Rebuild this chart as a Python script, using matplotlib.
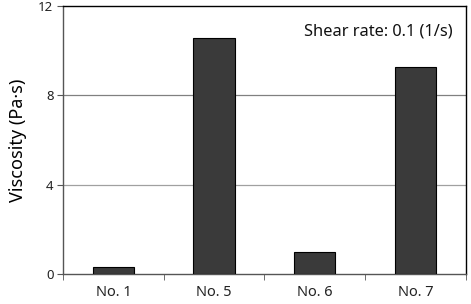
import matplotlib
matplotlib.use("Agg")
import matplotlib.pyplot as plt
import numpy as np

categories = ["No. 1", "No. 5", "No. 6", "No. 7"]
viscosity = [0.31, 10.55, 0.97, 9.25]
yticks = [0, 4, 8, 12]

plt.rcParams['font.family'] = ['Noto Sans', 'DejaVu Sans']

fig = plt.figure(figsize=(4.71, 3.04), dpi=100)
ax = fig.add_axes([0.134, 0.0987, 0.855, 0.8813])

x = np.arange(len(categories))
ax.bar(x, viscosity, width=0.41, color="#3a3a3a", edgecolor="black", linewidth=0.8, zorder=3)

ax.set_xlim(-0.5, len(categories) - 0.5)
ax.set_ylim(0, 12)
ax.set_yticks(yticks)
ax.set_yticklabels([str(v) for v in yticks], fontsize=9.5, color="#222222")
ax.axhline(4, color="#a0a0a0", linewidth=0.9, zorder=1)
ax.axhline(8, color="#808080", linewidth=0.9, zorder=1)

ax.set_xticks(x)
ax.set_xticklabels(categories, fontsize=10.5, color="#222222")
ax.tick_params(axis="x", length=0, pad=8)
ax.set_xticks(np.arange(-0.5, len(categories) + 0.5, 1), minor=True)
ax.tick_params(axis="x", which="minor", length=4, direction="out", color="#555555")
ax.tick_params(axis="y", length=4, direction="out", color="#555555", pad=3)

for s in ["top", "right"]:
    ax.spines[s].set_color("black")
    ax.spines[s].set_linewidth(1.0)
for s in ["left", "bottom"]:
    ax.spines[s].set_color("#555555")
    ax.spines[s].set_linewidth(1.0)

ax.set_ylabel("Viscosity (Pa·s)", fontsize=13, labelpad=8)
ax.text(0.968, 0.905, "Shear rate: 0.1 (1/s)", transform=ax.transAxes,
        ha="right", va="center", fontsize=11.8, color="#111111")

fig.savefig("out.png", dpi=100)
